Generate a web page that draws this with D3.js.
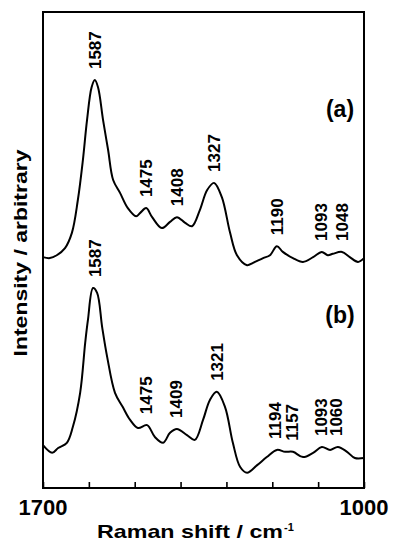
<!DOCTYPE html>
<html>
<head>
<meta charset="utf-8">
<title>Raman spectra</title>
<script src="https://d3js.org/d3.v7.min.js"></script>
<style>
  body { margin: 0; background: #fff; }
  text { font-family: "Liberation Sans", Arial, sans-serif; font-weight: bold; fill: #000; }
</style>
</head>
<body>
<script>
// spectrum (a)
const shiftA = [1700, 1685, 1670, 1652, 1637, 1624, 1613, 1604, 1594, 1587, 1580, 1569, 1558, 1547, 1532,
  1515, 1497, 1488, 1475, 1462, 1441, 1423, 1408, 1390, 1375, 1358, 1342, 1327, 1310, 1292, 1277, 1255,
  1242, 1220, 1205, 1190, 1177, 1155, 1133, 1111, 1092, 1079, 1068, 1048, 1031, 1013, 1000];
const intensityA = [48.5, 48.3, 48.9, 50.4, 53.6, 60.5, 68.9, 77.3, 84.2, 85.7, 84.2, 77.3, 71.0, 64.7, 62.0,
  58.8, 57.1, 57.8, 58.8, 56.9, 54.6, 55.9, 56.9, 55.7, 55.0, 58.4, 62.6, 64.1, 61.1, 53.6, 48.9, 46.8,
  47.3, 48.3, 48.9, 50.8, 49.6, 48.3, 47.5, 48.5, 49.6, 48.9, 49.2, 49.6, 48.5, 47.5, 48.3];

// spectrum (b)
const shiftB = [1700, 1680, 1667, 1648, 1635, 1619, 1608, 1602, 1591, 1582, 1571, 1560, 1543, 1526, 1510,
  1493, 1473, 1456, 1438, 1423, 1408, 1386, 1369, 1351, 1336, 1321, 1303, 1286, 1270, 1255, 1233, 1212,
  1190, 1172, 1155, 1133, 1111, 1092, 1074, 1057, 1037, 1020, 1000];
const intensityB = [9.0, 7.4, 8.4, 9.5, 12.8, 20.0, 30.5, 35.3, 42.0, 41.0, 33.8, 27.5, 20.0, 17.0, 14.3,
  12.6, 13.2, 10.7, 9.5, 11.6, 12.4, 11.1, 10.1, 14.3, 18.5, 20.2, 17.0, 9.5, 4.4, 3.2, 4.8, 6.5,
  8.0, 7.6, 7.6, 6.5, 7.4, 8.6, 8.0, 8.6, 7.6, 6.3, 6.3];

const peaksA = [1587, 1475, 1408, 1327, 1190, 1093, 1048];
const peaksB = [1587, 1475, 1409, 1321, 1194, 1157, 1093, 1060];
const xTicks = [1700, 1600, 1500, 1400, 1300, 1200, 1100, 1000];
const xTickLabels = [1700, 1000];

const width = 394, height = 542;
const svg = d3.select("body").append("svg")
    .attr("width", width)
    .attr("height", height);

const x = d3.scaleLinear().domain([1700, 1000]).range([43, 364]);
const y = d3.scaleLinear().domain([0, 100]).range([488, 12]);

const line = d3.line()
    .x(d => x(d[0]))
    .y(d => y(d[1]))
    .curve(d3.curveCatmullRom.alpha(0.5));

// frame
svg.append("rect")
    .attr("x", x(1700)).attr("y", y(100))
    .attr("width", x(1000) - x(1700)).attr("height", y(0) - y(100))
    .attr("fill", "none").attr("stroke", "#000").attr("stroke-width", 2);

// bottom ticks, pointing inward
svg.append("g")
    .attr("transform", "translate(0," + y(0) + ")")
    .call(d3.axisBottom(x).tickValues(xTicks).tickSizeInner(-6).tickSizeOuter(0).tickFormat(""))
    .call(g => g.select(".domain").remove())
    .call(g => g.selectAll("line").attr("stroke-width", 1.6));

svg.selectAll(".xlab")
    .data(xTickLabels)
    .enter().append("text")
    .attr("x", d => x(d))
    .attr("y", 515)
    .attr("text-anchor", "middle")
    .style("font-size", "22px")
    .text(d => d);

// spectra
const spectra = [
  { s: shiftA, v: intensityA, peaks: peaksA, tag: "(a)", tagY: 117 },
  { s: shiftB, v: intensityB, peaks: peaksB, tag: "(b)", tagY: 323 }
];

function valueAt(s, v, p) {
  for (let i = 0; i < s.length - 1; i++) {
    if (p <= s[i] && p >= s[i + 1]) {
      const t = (s[i] - p) / (s[i] - s[i + 1]);
      return v[i] + t * (v[i + 1] - v[i]);
    }
  }
  return v[v.length - 1];
}
function localTop(s, v, p) {
  let m = -Infinity;
  for (let k = -8; k <= 8; k++) m = Math.max(m, valueAt(s, v, p + k));
  return m;
}

spectra.forEach(sp => {
  svg.append("path")
      .datum(d3.zip(sp.s, sp.v))
      .attr("d", line)
      .attr("fill", "none")
      .attr("stroke", "#000")
      .attr("stroke-width", 2)
      .attr("stroke-linejoin", "round");

  svg.selectAll(null)
      .data(sp.peaks)
      .enter().append("text")
      .attr("transform", d => "translate(" + x(d) + "," + (y(localTop(sp.s, sp.v, d)) - 11) + ") rotate(-90)")
      .attr("dy", "0.35em")
      .style("font-size", "17px")
      .text(d => d);

  svg.append("text")
      .attr("x", 340)
      .attr("y", sp.tagY)
      .attr("text-anchor", "middle")
      .style("font-size", "23px")
      .text(sp.tag);
});

// axis titles
svg.append("text")
    .attr("transform", "translate(27,253) rotate(-90)")
    .attr("text-anchor", "middle")
    .attr("textLength", 207)
    .attr("lengthAdjust", "spacingAndGlyphs")
    .style("font-size", "19px")
    .text("Intensity / arbitrary");

svg.append("text")
    .attr("x", 97)
    .attr("y", 538)
    .attr("textLength", 186)
    .attr("lengthAdjust", "spacingAndGlyphs")
    .style("font-size", "18.5px")
    .text("Raman shift / cm");

svg.append("text")
    .attr("x", 284)
    .attr("y", 531)
    .style("font-size", "11px")
    .text("-1");
</script>
</body>
</html>
